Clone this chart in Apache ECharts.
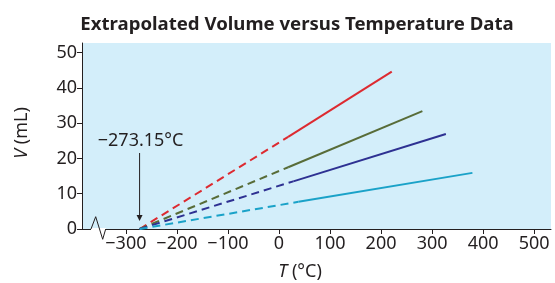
<!DOCTYPE html>
<html>
<head>
<meta charset="utf-8">
<script src="https://cdn.jsdelivr.net/npm/echarts@6/dist/echarts.min.js"></script>
<style>html,body{margin:0;padding:0;background:#fff}#c{width:555px;height:283px}</style>
</head>
<body>
<div id="c"></div>
<script>
// Data
var absoluteZero = -273.15;
var seriesNames = ['A', 'B', 'C', 'D'];
var seriesColors = ['#dd2a30', '#586c38', '#2e3192', '#1aa2c8'];
// measured (solid) segment: start and end points [T, V]
var measuredStartT = [18, 18, 28, 38];
var measuredStartV = [26.1, 17.5, 13.5, 7.7];
var measuredEndT = [221, 281, 327, 379];
var measuredEndV = [44.6, 33.4, 26.9, 15.9];
var xTickValues = [-300, -200, -100, 0, 100, 200, 300, 400, 500];
var yTickValues = [0, 10, 20, 30, 40, 50];

var FONT = 'Noto Sans';
var chart = echarts.init(document.getElementById('c'));

var series = [];
for (var i = 0; i < seriesNames.length; i++) {
  series.push({
    name: seriesNames[i] + ' extrapolated', type: 'line', symbol: 'none', silent: true,
    lineStyle: {color: seriesColors[i], width: 2, type: [8, 5]},
    data: [[absoluteZero, 0], [measuredStartT[i], measuredStartV[i]]]
  });
  series.push({
    name: seriesNames[i], type: 'line', symbol: 'none', silent: true,
    lineStyle: {color: seriesColors[i], width: 2},
    data: [[measuredStartT[i], measuredStartV[i]], [measuredEndT[i], measuredEndV[i]]]
  });
}

chart.setOption({
  animation: false,
  grid: {left: 82, right: 4, top: 43, bottom: 54, show: true, backgroundColor: '#d3eefa', borderWidth: 0},
  xAxis: {
    type: 'value', min: -386, max: 533,
    axisLine: {onZero: false, lineStyle: {color: '#231f20', width: 1}},
    axisTick: {show: true, length: 5, customValues: xTickValues, lineStyle: {color: '#231f20'}},
    axisLabel: {customValues: xTickValues, fontFamily: FONT, fontSize: 18, color: '#231f20', margin: 6,
      formatter: function (v) { return v < 0 ? '\u2212' + Math.abs(v) : String(v); }},
    splitLine: {show: false}
  },
  yAxis: {
    type: 'value', min: 0, max: 52.7, interval: 10,
    axisLine: {show: true, onZero: false, lineStyle: {color: '#231f20', width: 1}},
    axisTick: {show: true, length: 5, customValues: yTickValues, lineStyle: {color: '#231f20'}},
    axisLabel: {customValues: yTickValues, fontFamily: FONT, fontSize: 18, color: '#231f20', margin: 5},
    splitLine: {show: false}
  },
  series: series
});

// Decorations positioned through the chart's own scales
var p0 = chart.convertToPixel({xAxisIndex: 0, yAxisIndex: 0}, [absoluteZero, 0]);
var axisY = p0[1];
var ax = p0[0];
var zx = 91;
chart.setOption({
  graphic: [
    {type: 'text', x: 297, y: 25, z: 101,
      style: {text: 'Extrapolated Volume versus Temperature Data', fontFamily: FONT, fontWeight: 'bold', fontSize: 18.6,
        fill: '#231f20', align: 'center', verticalAlign: 'middle'}},
    {type: 'rect', shape: {x: zx, y: axisY - 1, width: 15, height: 3}, style: {fill: '#ffffff'}, z: 100},
    {type: 'polyline', shape: {points: [[zx, axisY], [zx + 4.7, axisY - 12.3], [zx + 11.7, axisY + 10.3], [zx + 14.7, axisY]]},
      style: {stroke: '#231f20', lineWidth: 1, fill: null}, z: 101},
    {type: 'line', shape: {x1: ax, y1: axisY - 76, x2: ax, y2: axisY - 12}, style: {stroke: '#231f20', lineWidth: 1}, z: 101},
    {type: 'polygon', shape: {points: [[ax - 3, axisY - 14], [ax + 3, axisY - 14], [ax, axisY - 8]]}, style: {fill: '#231f20'}, z: 101},
    {type: 'text', x: ax + 1, y: axisY - 88, z: 101,
      style: {text: '\u2212273.15\u00b0C', fontFamily: FONT, fontSize: 18, fill: '#231f20', align: 'center', verticalAlign: 'middle'}},
    {type: 'text', x: 300, y: 272, z: 101,
      style: {text: '{i|T} (\u00b0C)', fontFamily: FONT, fontSize: 18, fill: '#231f20', align: 'center', verticalAlign: 'middle',
        rich: {i: {fontStyle: 'italic', fontFamily: FONT, fontSize: 18, fill: '#231f20'}}}},
    {type: 'text', x: 22, y: 133, rotation: Math.PI / 2, z: 101,
      style: {text: '{i|V} (mL)', fontFamily: FONT, fontSize: 18, fill: '#231f20', align: 'center', verticalAlign: 'middle',
        rich: {i: {fontStyle: 'italic', fontFamily: FONT, fontSize: 18, fill: '#231f20'}}}}
  ]
});
</script>
</body>
</html>
